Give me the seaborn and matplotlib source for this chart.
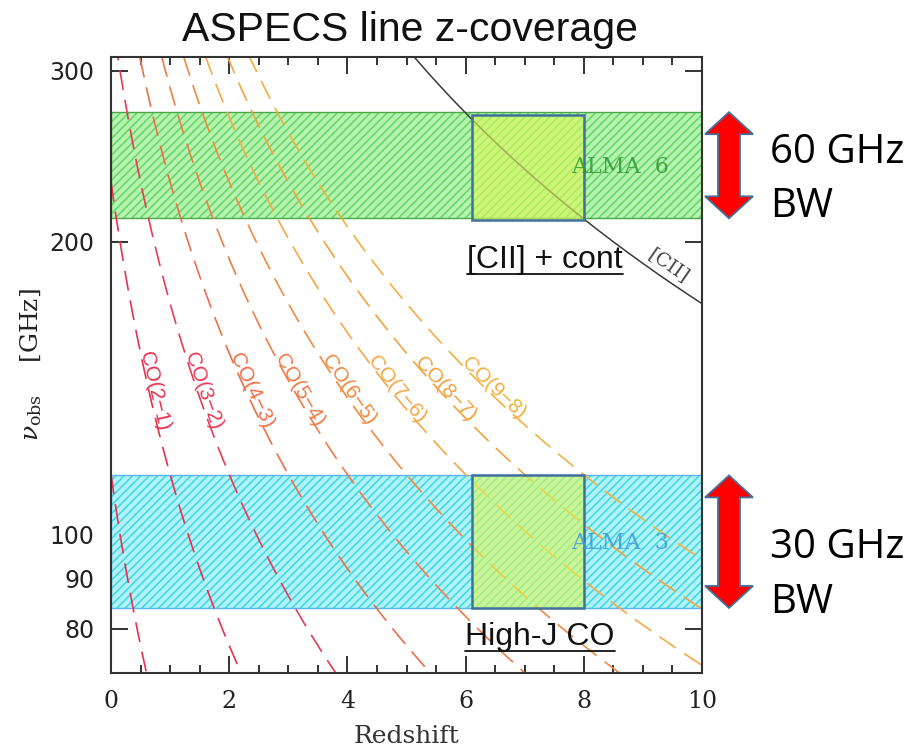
import numpy as np
import pandas as pd
import seaborn as sns
import matplotlib.pyplot as plt
from matplotlib.patches import Polygon, Rectangle
from matplotlib.lines import Line2D
from matplotlib.ticker import MultipleLocator, NullLocator
from matplotlib.transforms import IdentityTransform

# rest frequencies of the lines (GHz)
co_names = ['CO(1−0)', 'CO(2−1)', 'CO(3−2)', 'CO(4−3)', 'CO(5−4)',
            'CO(6−5)', 'CO(7−6)', 'CO(8−7)', 'CO(9−8)']
co_rest = [115.271, 230.538, 345.796, 461.041, 576.268,
           691.473, 806.652, 921.800, 1036.912]
co_colors = ['#e8304f', '#e8304f', '#e83a58', '#ee6e48', '#ef7c48',
             '#f08a40', '#f4a848', '#f3a23e', '#f4b03e']
cii_rest = 1900.537

redshift = np.linspace(0, 10, 401)

# ALMA bands (GHz) and the highlighted redshift windows
band3 = (84.0, 115.0)
band6 = (211.5, 272.0)
box_z = (6.1, 8.0)
box6 = (210.5, 270.0)
box3 = (84.0, 115.0)

yticks = [80, 90, 100, 200, 300]
label_freq = 140.0

sns.set_style('ticks')
plt.rcParams['font.family'] = ['Liberation Sans', 'DejaVu Sans']
plt.rcParams['mathtext.fontset'] = 'dejavuserif'
plt.rcParams['hatch.linewidth'] = 1.1

fig = plt.figure(figsize=(9.11, 7.51), dpi=100)
ax = fig.add_axes([111 / 911, 1 - 673 / 751, 591 / 911, 616 / 751])

# lines
rows = []
for name, nu0 in zip(co_names, co_rest):
    for z in redshift:
        rows.append((name, z, nu0 / (1 + z)))
df = pd.DataFrame(rows, columns=['line', 'z', 'nu'])

for name, c in zip(co_names, co_colors):
    sns.lineplot(data=df[df.line == name], x='z', y='nu', ax=ax, color=c,
                 lw=1.2, linestyle=(0, (12, 6)), sort=False, zorder=2)

sns.lineplot(x=redshift, y=cii_rest / (1 + redshift), ax=ax, color='#3a3a3a',
             lw=1.1, zorder=2.5)

ax.set_yscale('log')
ax.set_xlim(0, 10)
ax.set_ylim(72, 310)


def band(lo, hi, base, hatchc, edgec):
    ax.axhspan(lo, hi, facecolor=base, edgecolor='none', zorder=1)
    ax.axhspan(lo, hi, facecolor='none', edgecolor=hatchc, hatch='////', lw=0, zorder=1.1)
    ax.axhspan(lo, hi, fill=False, edgecolor=edgec, lw=1.0, zorder=1.2)


band(*band6, '#b6f2b0', '#62d862', '#4aa84a')
band(*band3, '#b0f2f6', '#3ed6e6', '#5ab4ee')

for lo, hi in [box6, box3]:
    ax.add_patch(Rectangle((box_z[0], lo), box_z[1] - box_z[0], hi - lo,
                           facecolor=(0.86, 0.97, 0.35, 0.62), edgecolor='#41719c',
                           lw=1.8, zorder=3))

ax.text(8.62, 239, 'ALMA  6', color='#2f9a35', alpha=0.85, fontsize=16,
        family='DejaVu Serif', ha='center', va='center', zorder=4)
ax.text(8.62, 97.9, 'ALMA  3', color='#3f9ad8', alpha=0.85, fontsize=16,
        family='DejaVu Serif', ha='center', va='center', zorder=4)

# axes styling
ax.xaxis.set_major_locator(MultipleLocator(2))
ax.xaxis.set_minor_locator(MultipleLocator(0.5))
ax.set_yticks(yticks, labels=[str(v) for v in yticks])
ax.yaxis.set_minor_locator(NullLocator())
ax.tick_params(which='both', direction='in', top=True, right=True,
               color='#333333', width=1.4)
ax.tick_params(which='major', length=12)
ax.tick_params(which='minor', length=6)
ax.tick_params(axis='y', labelsize=17, pad=12, labelcolor='#222222',
               labelfontfamily='DejaVu Sans')
ax.tick_params(axis='x', labelsize=17, pad=12, labelcolor='#222222',
               labelfontfamily='DejaVu Serif')
for s in ax.spines.values():
    s.set_linewidth(1.5)
    s.set_color('#333333')

ax.set_xlabel('Redshift', family='DejaVu Serif', fontsize=18, labelpad=9, color='#333333')
ax.set_ylabel(r'$\nu_{\rm obs}$    [GHz]', family='DejaVu Serif', fontsize=18,
              labelpad=4, color='#222222')

# line labels rotated along the curves
def angle_at(nu0, z, dz=0.05):
    p1 = ax.transData.transform((z, nu0 / (1 + z)))
    p2 = ax.transData.transform((z + dz, nu0 / (1 + z + dz)))
    return np.degrees(np.arctan2(p2[1] - p1[1], p2[0] - p1[0]))


for name, nu0, c in zip(co_names[1:], co_rest[1:], co_colors[1:]):
    z = nu0 / label_freq - 1
    ax.text(z, label_freq, name, color=c, fontsize=15, rotation=angle_at(nu0, z),
            rotation_mode='anchor', ha='center', va='baseline', zorder=4)

z_cii = 9.3
a = angle_at(cii_rest, z_cii)
off = 3.0
ax.annotate('[CII]', xy=(z_cii, cii_rest / (1 + z_cii)),
            xytext=(-off * np.sin(np.radians(a)), off * np.cos(np.radians(a))),
            textcoords='offset points', rotation=a, rotation_mode='anchor',
            ha='center', va='bottom', fontsize=14, family='DejaVu Serif',
            color='#444444')

# title and annotations outside the axes
fig.text(410 / 911, 1 - 30 / 751, 'ASPECS line z-coverage', fontsize=29.5,
         ha='center', va='center', color='#111111')

t1 = fig.text(545 / 911, 1 - 260 / 751, '[CII] + cont', fontsize=23,
              ha='center', va='center', color='#111111')
t2 = fig.text(540 / 911, 1 - 637 / 751, 'High-J CO', fontsize=23,
              ha='center', va='center', color='#111111')

for txt, y in [('60 GHz', 153), ('BW', 207), ('30 GHz', 548), ('BW', 603)]:
    fig.text(770 / 911, 1 - y / 751, txt, fontsize=29, family='Open Sans',
             ha='left', va='center', color='black')


def double_arrow(lo, hi, xc=729, shaft=22, head=48, head_len=22):
    y0 = ax.transData.transform((0, lo))[1]
    y1 = ax.transData.transform((0, hi))[1]
    pts = [(xc, y1), (xc + head / 2, y1 - head_len), (xc + shaft / 2, y1 - head_len),
           (xc + shaft / 2, y0 + head_len), (xc + head / 2, y0 + head_len), (xc, y0),
           (xc - head / 2, y0 + head_len), (xc - shaft / 2, y0 + head_len),
           (xc - shaft / 2, y1 - head_len), (xc - head / 2, y1 - head_len)]
    fig.add_artist(Polygon(pts, closed=True, facecolor='#ff0000', edgecolor='#41719c',
                           lw=1.3, transform=IdentityTransform()))


double_arrow(*band6)
double_arrow(*band3)

# underline the two box captions
fig.canvas.draw()
for t in [t1, t2]:
    bb = t.get_window_extent()
    fig.add_artist(Line2D([bb.x0, bb.x1], [bb.y0 + 1, bb.y0 + 1], color='#111111',
                          lw=1.3, transform=IdentityTransform()))

fig.savefig('out.png', dpi=100)
